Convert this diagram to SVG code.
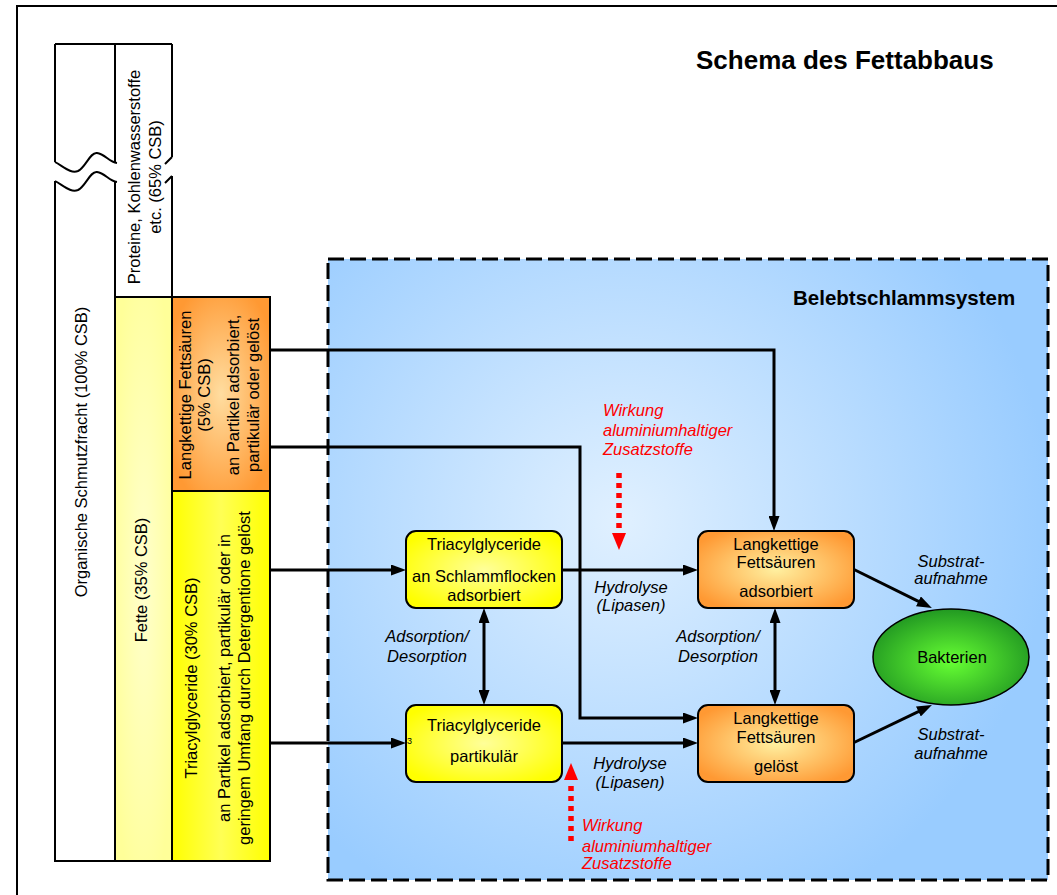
<svg xmlns="http://www.w3.org/2000/svg" width="1057" height="895" viewBox="0 0 1057 895">
<defs>
<style>
text{font-family:"Liberation Sans",Arial,sans-serif;font-size:16.5px;fill:#000}
.b{font-weight:bold}
.i{font-style:italic}
.red{fill:#FF0000;font-style:italic}
.m{text-anchor:middle}
.col{stroke:#000;stroke-width:2}
.conn{fill:none;stroke:#000;stroke-width:3}
.node{stroke:#000;stroke-width:2}
</style>
<radialGradient id="gBlue" gradientUnits="userSpaceOnUse" cx="620" cy="520" r="430">
<stop offset="0" stop-color="#E0F0FF"/><stop offset="1" stop-color="#99CCFF"/>
</radialGradient>
<radialGradient id="gYel" cx="0.5" cy="0.5" r="0.6">
<stop offset="0" stop-color="#FFFF99"/><stop offset="1" stop-color="#FFFF00"/>
</radialGradient>
<radialGradient id="gOra" cx="0.5" cy="0.5" r="0.6">
<stop offset="0" stop-color="#FFF0A0"/><stop offset="1" stop-color="#FF9933"/>
</radialGradient>
<radialGradient id="gGreen" cx="0.5" cy="0.55" r="0.55">
<stop offset="0" stop-color="#66FF33"/><stop offset="1" stop-color="#229922"/>
</radialGradient>
<radialGradient id="gFette" cx="0.5" cy="0.5" r="0.6">
<stop offset="0" stop-color="#FFFFCC"/><stop offset="1" stop-color="#FFFF99"/>
</radialGradient>
<radialGradient id="gOraCol" cx="0.5" cy="0.5" r="0.6">
<stop offset="0" stop-color="#FFDDA0"/><stop offset="1" stop-color="#FF9933"/>
</radialGradient>
<linearGradient id="gYelCol" x1="0" y1="0" x2="1" y2="0">
<stop offset="0" stop-color="#FFFF00"/><stop offset="0.5" stop-color="#FFFF55"/><stop offset="1" stop-color="#FFFF00"/>
</linearGradient>
<marker id="ah" markerUnits="userSpaceOnUse" markerWidth="15" markerHeight="11" refX="4" refY="5.5" orient="auto-start-reverse" viewBox="0 0 15 11">
<path d="M0,0 L15,5.5 L0,11 z" fill="#000"/>
</marker>
</defs>

<rect width="1057" height="895" fill="#fff"/>
<path d="M17,895 V6 H1057" fill="none" stroke="#000" stroke-width="2"/>

<text class="b" x="696" y="69" style="font-size:26px">Schema des Fettabbaus</text>

<g id="columns">
<rect x="115" y="297" width="57" height="564" fill="url(#gFette)"/>
<rect id="col-lcfa" x="172" y="297" width="98" height="194" fill="url(#gOraCol)" class="col"/>
<rect id="col-tag" x="172" y="491" width="98" height="370" fill="url(#gYelCol)" class="col"/>
<path class="col" fill="none" d="M55,44 H172 M55,44 V162 M115,44 V163 M172,44 V157 M55,181 V861 H172 M115,182 V861 M172,176 V297 M115,297 H172"/>
<path class="col" fill="none" d="M55,162 C64,167 71,174 78,171 C86,167 90,152 97,153 C105,154 109,162 117,163 M165,164 L172,157"/>
<path class="col" fill="none" d="M55,181 C64,186 71,193 78,190 C86,186 90,171 97,172 C105,173 109,181 117,182 M165,183 L172,176"/>
<text class="m" transform="translate(87,452) rotate(-90)">Organische Schmutzfracht  (100% CSB)</text>
<text class="m" transform="translate(140,177) rotate(-90)">Proteine, Kohlenwasserstoffe</text>
<text class="m" transform="translate(161,177) rotate(-90)">etc. (65% CSB)</text>
<text class="m" transform="translate(147,580) rotate(-90)">Fette (35% CSB)</text>
<g transform="translate(0,395)">
<text class="m" transform="translate(191,0) rotate(-90)">Langkettige Fettsäuren</text>
<text class="m" transform="translate(210,0) rotate(-90)">(5% CSB)</text>
<text class="m" transform="translate(239,0) rotate(-90)">an Partikel adsorbiert,</text>
<text class="m" transform="translate(259,0) rotate(-90)">partikulär oder gelöst</text>
</g>
<g transform="translate(0,678)">
<text class="m" transform="translate(197,0) rotate(-90)">Triacylglyceride (30% CSB)</text>
<text class="m" transform="translate(230,0) rotate(-90)">an Partikel adsorbiert, partikulär oder in</text>
<text class="m" transform="translate(250,0) rotate(-90)">geringem Umfang durch Detergentione gelöst</text>
</g>
</g>

<g id="belebtschlammsystem">
<rect x="328" y="259" width="720" height="621" fill="url(#gBlue)" stroke="#000" stroke-width="3" stroke-dasharray="16,6"/>
<text class="b" x="793" y="305" style="font-size:20.5px">Belebtschlammsystem</text>
</g>

<g id="connectors">
<path class="conn" marker-end="url(#ah)" d="M270,350 H774 V520"/>
<path class="conn" marker-end="url(#ah)" d="M270,447 H580 V718 H687"/>
<path class="conn" marker-end="url(#ah)" d="M270,570 H395"/>
<path class="conn" marker-end="url(#ah)" d="M270,743 H395"/>
<path class="conn" marker-end="url(#ah)" d="M562,570 H687"/>
<path class="conn" marker-end="url(#ah)" d="M562,743 H687"/>
<path class="conn" marker-start="url(#ah)" marker-end="url(#ah)" d="M484,619 V694"/>
<path class="conn" marker-start="url(#ah)" marker-end="url(#ah)" d="M775,619 V694"/>
<path class="conn" marker-end="url(#ah)" d="M853,569 L922,603.1"/>
<path class="conn" marker-end="url(#ah)" d="M853,743 L922,709.8"/>
<path d="M619,473 V533" fill="none" stroke="#FF0000" stroke-width="5.5" stroke-dasharray="5,5"/>
<path d="M612,533 L626,533 L619,550 z" fill="#FF0000"/>
<path d="M571,841 V781" fill="none" stroke="#FF0000" stroke-width="5.5" stroke-dasharray="5,5"/>
<path d="M564,780 L578,780 L571,763 z" fill="#FF0000"/>
</g>

<g id="labels">
<text class="i m" x="631" y="593">Hydrolyse</text>
<text class="i m" x="631" y="611">(Lipasen)</text>
<text class="i m" x="630" y="769">Hydrolyse</text>
<text class="i m" x="630" y="788">(Lipasen)</text>
<text class="i m" x="427" y="642">Adsorption/</text>
<text class="i m" x="427" y="662">Desorption</text>
<text class="i m" x="718" y="642">Adsorption/</text>
<text class="i m" x="718" y="662">Desorption</text>
<text class="i m" x="951" y="567">Substrat-</text>
<text class="i m" x="951" y="584">aufnahme</text>
<text class="i m" x="951" y="740">Substrat-</text>
<text class="i m" x="951" y="759">aufnahme</text>
<text class="red" x="603" y="416">Wirkung</text>
<text class="red" x="603" y="436">aluminiumhaltiger</text>
<text class="red" x="603" y="455">Zusatzstoffe</text>
<text class="red" x="582" y="831">Wirkung</text>
<text class="red" x="582" y="852">aluminiumhaltiger</text>
<text class="red" x="582" y="869">Zusatzstoffe</text>
</g>

<g id="tag-adsorbiert">
<rect class="node" x="406" y="531" width="156" height="77" rx="10" fill="url(#gYel)"/>
<text class="m" x="484" y="550">Triacylglyceride</text>
<text class="m" x="484" y="582">an Schlammflocken</text>
<text class="m" x="484" y="601">adsorbiert</text>
</g>
<g id="tag-partikulaer">
<rect class="node" x="406" y="705" width="156" height="77" rx="10" fill="url(#gYel)"/>
<text class="m" x="484" y="731">Triacylglyceride</text>
<text class="m" x="484" y="762">partikulär</text>
<text x="407" y="744" style="font-size:9px">3</text>
</g>
<g id="lcfa-adsorbiert">
<rect class="node" x="698" y="531" width="156" height="77" rx="10" fill="url(#gOra)"/>
<text class="m" x="776" y="550">Langkettige</text>
<text class="m" x="776" y="568">Fettsäuren</text>
<text class="m" x="776" y="597">adsorbiert</text>
</g>
<g id="lcfa-geloest">
<rect class="node" x="698" y="705" width="156" height="77" rx="10" fill="url(#gOra)"/>
<text class="m" x="776" y="724">Langkettige</text>
<text class="m" x="776" y="743">Fettsäuren</text>
<text class="m" x="776" y="772">gelöst</text>
</g>
<g id="bakterien">
<ellipse cx="951" cy="657" rx="78" ry="48" fill="url(#gGreen)" stroke="#000" stroke-width="1.5"/>
<text class="m" x="952" y="663">Bakterien</text>
</g>
</svg>
